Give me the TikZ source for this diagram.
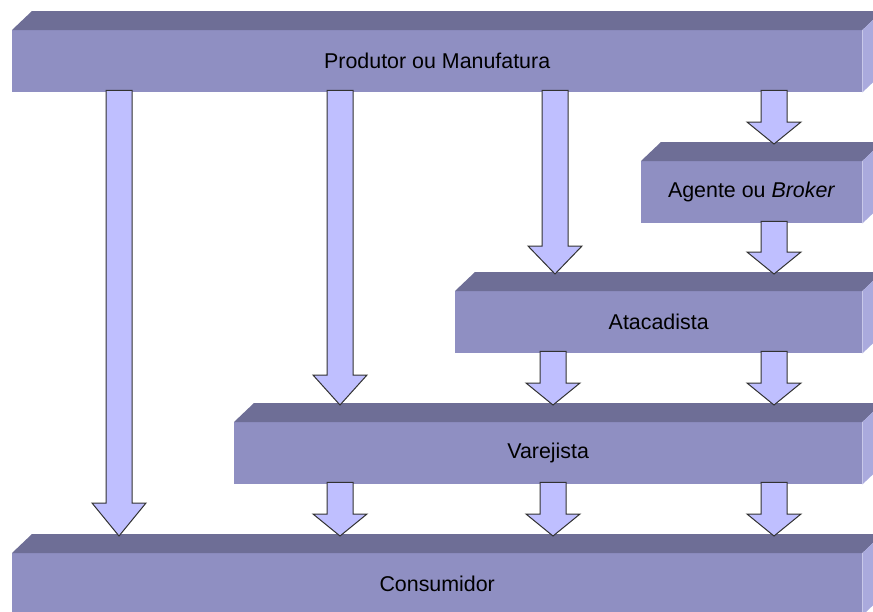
\documentclass[tikz,border=0pt]{standalone}
\usepackage{fontspec}
\setmainfont{Liberation Sans}
\usetikzlibrary{calc}
\definecolor{frontc}{RGB}{143,143,194}
\definecolor{topc}{RGB}{110,110,150}
\definecolor{sidec}{RGB}{170,170,221}
\definecolor{arrfill}{RGB}{191,191,255}
\definecolor{arrline}{RGB}{50,50,50}
\tikzset{
  stagebox/.style={fill=frontc, draw=none, minimum height=62pt, inner sep=0pt,
    anchor=north west, text=black, font=\fontsize{21.4pt}{25pt}\selectfont},
  topface/.style={fill=topc},
  sideface/.style={fill=sidec},
  fatarr/.style={fill=arrfill, draw=arrline, line width=1pt, line join=miter}
}
\newcommand\boxfaces[1]{%
  \fill[topface] (#1.north west) -- ++(20pt,19pt) -- ($(#1.north east)+(20pt,19pt)$) -- (#1.north east) -- cycle;
  \fill[sideface] (#1.north east) -- ++(20pt,19pt) -- ($(#1.south east)+(20pt,19pt)$) -- (#1.south east) -- cycle;
}
% #1 x centre, #2 source node, #3 target node, #4 head length
\newcommand\fatarrow[4]{%
  \draw[fatarr] let \p1=(#2.south), \p2=(#3.north) in
    (#1pt-13pt,\y1+2pt) -- (#1pt+13pt,\y1+2pt) -- (#1pt+13pt,\y2+17pt+#4pt)
    -- (#1pt+27pt,\y2+17pt+#4pt) -- (#1pt,\y2+17pt) -- (#1pt-27pt,\y2+17pt+#4pt)
    -- (#1pt-13pt,\y2+17pt+#4pt) -- cycle;
}
\begin{document}
\begin{tikzpicture}[x=1pt,y=-1pt]
\useasboundingbox (0,0) rectangle (873,611);
\clip (0,0) rectangle (873,611);

\node[stagebox, minimum width=850pt] (prod) at (12,30) {Produtor ou Manufatura};
\boxfaces{prod}
\node[stagebox, minimum width=221pt] (agente) at (641,161) {Agente ou \textit{Broker}};
\boxfaces{agente}
\node[stagebox, minimum width=407pt] (atac) at (455,291) {Atacadista};
\boxfaces{atac}
\node[stagebox, minimum width=628pt] (varej) at (234,422) {Varejista};
\boxfaces{varej}
\node[stagebox, minimum width=850pt] (cons) at (12,553) {Consumidor};
\boxfaces{cons}

\fatarrow{119}{prod}{cons}{33}
\fatarrow{340}{prod}{varej}{30}
\fatarrow{555}{prod}{atac}{28}
\fatarrow{774}{prod}{agente}{22}
\fatarrow{774}{agente}{atac}{22}
\fatarrow{553}{atac}{varej}{22}
\fatarrow{774}{atac}{varej}{22}
\fatarrow{340}{varej}{cons}{22}
\fatarrow{553}{varej}{cons}{22}
\fatarrow{774}{varej}{cons}{22}
\end{tikzpicture}
\end{document}
